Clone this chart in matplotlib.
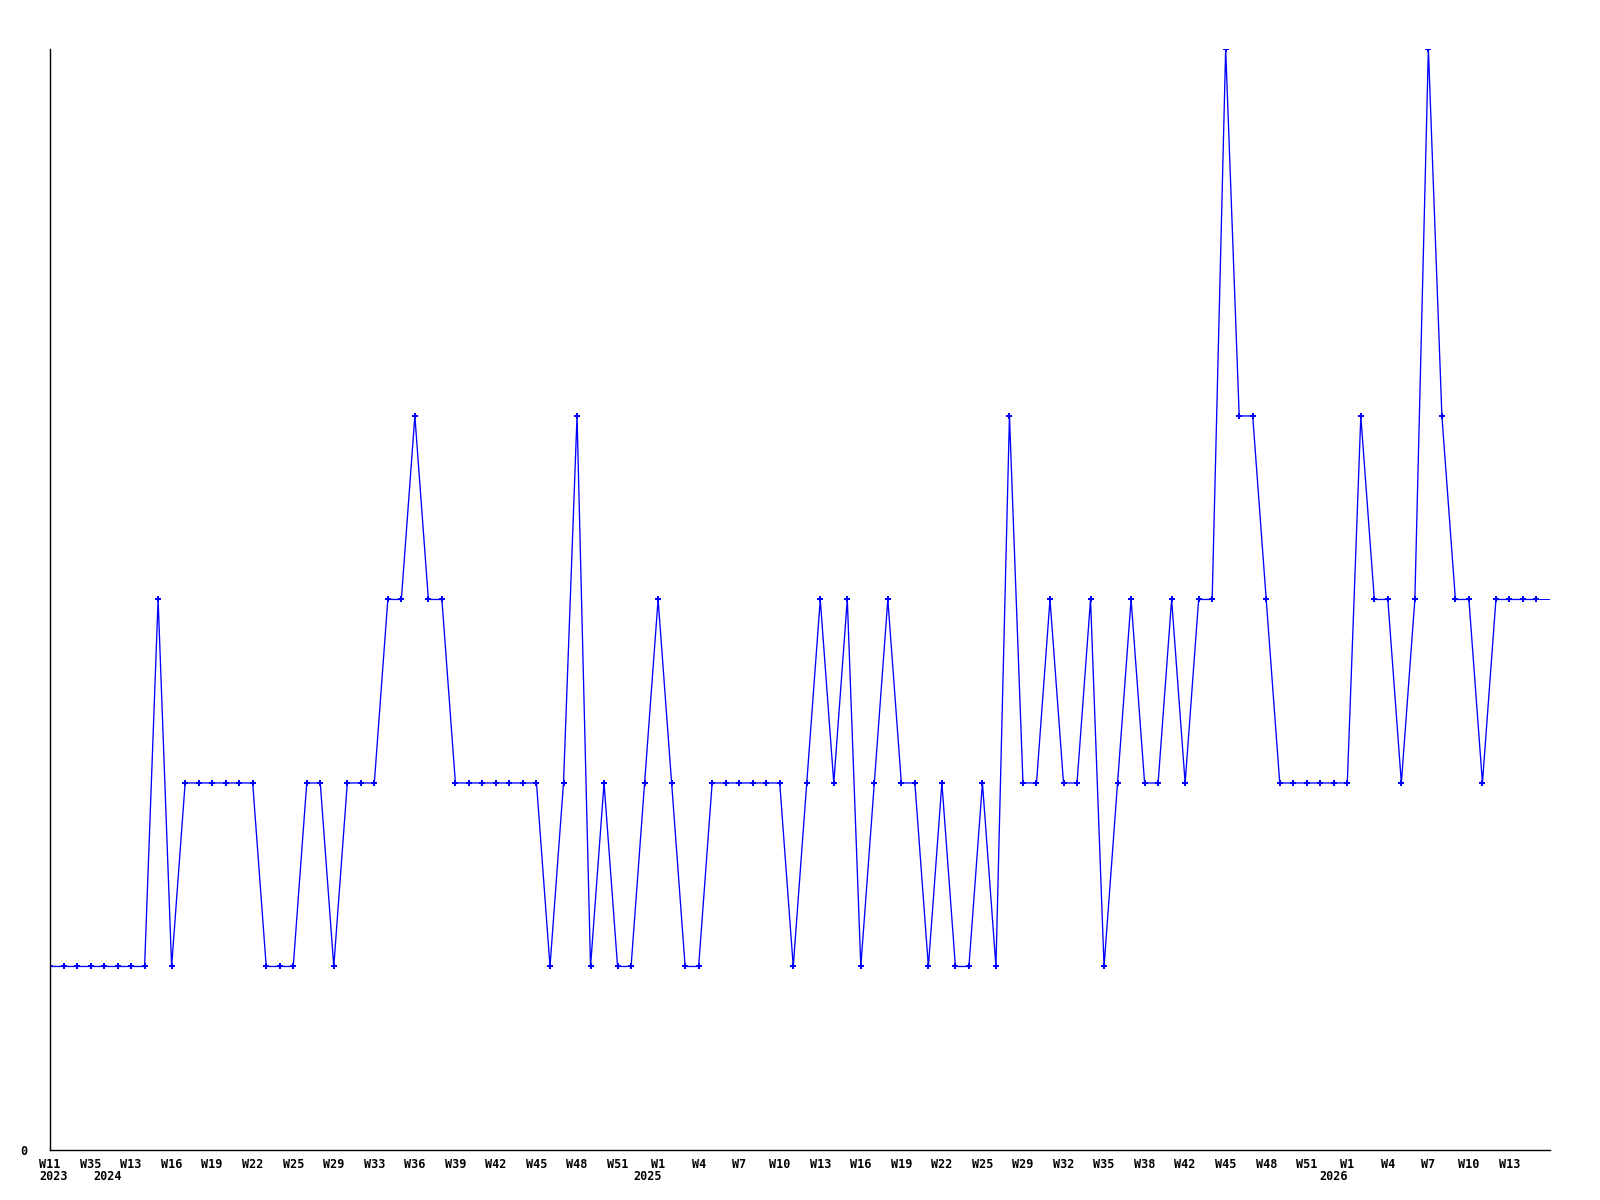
import matplotlib
matplotlib.use("Agg")
import matplotlib.pyplot as plt

values = [1, 1, 1, 1, 1, 1, 1, 1, 3, 1,
          2, 2, 2, 2, 2, 2, 1, 1, 1, 2,
          2, 1, 2, 2, 2, 3, 3, 4, 3, 3,
          2, 2, 2, 2, 2, 2, 2, 1, 2, 4,
          1, 2, 1, 1, 2, 3, 2, 1, 1, 2,
          2, 2, 2, 2, 2, 1, 2, 3, 2, 3,
          1, 2, 3, 2, 2, 1, 2, 1, 1, 2,
          1, 4, 2, 2, 3, 2, 2, 3, 1, 2,
          3, 2, 2, 3, 2, 3, 3, 6, 4, 4,
          3, 2, 2, 2, 2, 2, 2, 4, 3, 3,
          2, 3, 6, 4, 3, 3, 2, 3, 3, 3,
          3]
last_value = 3  # current (partial) week, drawn without marker

week_labels = ["W11", "W35", "W13", "W16", "W19", "W22", "W25", "W29", "W33", "W36",
               "W39", "W42", "W45", "W48", "W51", "W1", "W4", "W7", "W10", "W13",
               "W16", "W19", "W22", "W25", "W29", "W32", "W35", "W38", "W42", "W45",
               "W48", "W51", "W1", "W4", "W7", "W10", "W13"]
year_labels = ["2023", "2024", "2025", "2026"]
year_index = [0.3, 4.3, 44.2, 95.0]

fig = plt.figure(figsize=(16, 12), dpi=100)
ax = fig.add_axes([0.03125, 0.0417, 0.9375, 0.9175])

n = len(values)
xs = list(range(n))
ax.plot([n - 1, n], [values[-1], last_value], color="#0000ff", lw=0.7)
ax.plot(xs, values, color="#0000ff", lw=0.95, marker="P", markersize=4,
        markeredgewidth=0)

ax.set_xlim(0, n)
ax.set_ylim(0, 6)

for s in ["top", "right"]:
    ax.spines[s].set_visible(False)
for s in ["left", "bottom"]:
    ax.spines[s].set_linewidth(1.0)
    ax.spines[s].set_color("black")

font = dict(family="DejaVu Sans Mono", fontsize=8.5, fontweight="bold")
ax.set_xticks(range(0, 3 * len(week_labels), 3))
ax.set_xticklabels(week_labels, **font)
ax.tick_params(axis="x", length=0, pad=6)
ax.set_yticks([0])
ax.set_yticklabels(["0"], **font)
ax.tick_params(axis="y", length=0, pad=16)

for lab, xi in zip(year_labels, year_index):
    ax.text(xi, -0.0185, lab, transform=ax.get_xaxis_transform(), ha="center",
            va="top", **font)

fig.savefig("out.png", dpi=100)
